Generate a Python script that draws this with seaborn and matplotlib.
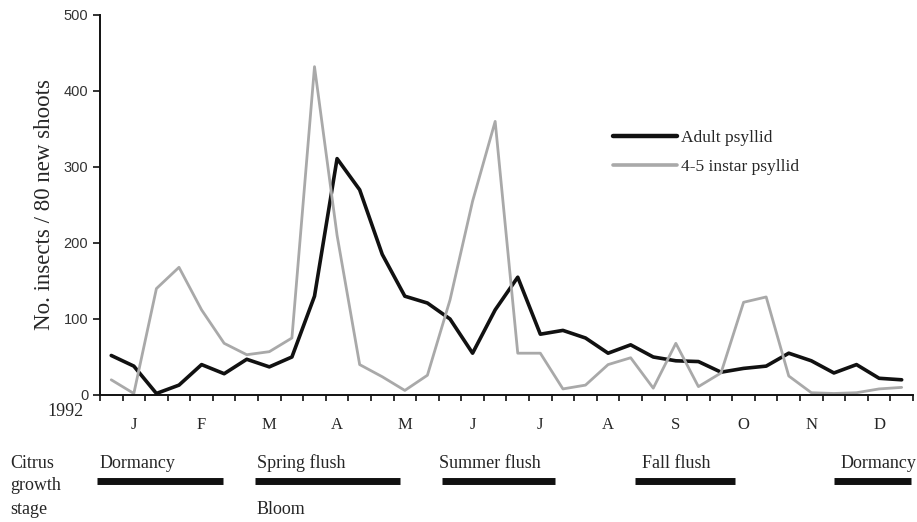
import numpy as np
import pandas as pd
import matplotlib
matplotlib.use("Agg")
import matplotlib.pyplot as plt
import matplotlib.transforms as mtransforms
import seaborn as sns

# ---- data (36 ten-day periods of 1992) ----
adult = [52, 38, 2, 13, 40, 28, 47, 37, 50, 130, 311, 270,
         185, 130, 121, 100, 55, 112, 155, 80, 85, 75, 55, 66,
         50, 45, 44, 30, 35, 38, 55, 45, 29, 40, 22, 20]
instar = [20, 2, 140, 168, 112, 68, 53, 57, 75, 432, 210, 40,
          24, 6, 26, 125, 255, 360, 55, 55, 8, 13, 40, 49,
          9, 68, 11, 29, 122, 129, 25, 3, 2, 3, 8, 10]
series_names = ["Adult psyllid", "4-5 instar psyllid"]
months = ["J", "F", "M", "A", "M", "J", "J", "A", "S", "O", "N", "D"]
y_ticks = [0, 100, 200, 300, 400, 500]

stage_names = ["Dormancy", "Spring flush", "Summer flush", "Fall flush", "Dormancy"]
stage_start = [-0.13, 6.86, 15.13, 23.67, 32.5]
stage_end = [5.44, 13.27, 20.13, 28.1, 35.9]
stage_label_x = [0.0, 6.95, 15.0, 24.0, 32.8]

n = len(adult)
period = np.arange(n) + 0.5
df = pd.DataFrame({
    "period": np.concatenate([period, period]),
    "count": adult + instar,
    "series": [series_names[0]] * n + [series_names[1]] * n,
})

sns.set_style("ticks")
plt.rcParams["font.family"] = ["Liberation Serif", "DejaVu Serif"]

fig = plt.figure(figsize=(9.17, 5.22), dpi=100)
ax = fig.add_axes([0.109, 0.2433, 0.8866, 0.728])

sns.lineplot(data=df, x="period", y="count", hue="series",
             palette={series_names[0]: "#111111", series_names[1]: "#a9a9a9"},
             ax=ax, legend=True)
lws = [2.6, 2.0]
for line, lw in zip(ax.lines, lws):
    line.set_linewidth(lw)

ax.set_xlim(0, n)
ax.set_ylim(0, 500)
ax.set_yticks(y_ticks)
ax.set_yticklabels([str(v) for v in y_ticks], family=["Liberation Sans Narrow", "Liberation Sans"],
                   fontsize=10.5, color="#333333")
ax.set_xticks(np.arange(0, n + 1), labels=[""] * (n + 1))
ax.set_xticks(np.arange(len(months)) * 3 + 1.5, minor=True)
ax.set_xticklabels(months, minor=True, fontsize=12)
ax.tick_params(axis="x", which="major", direction="out", length=4, width=1.2, color="#111111")
ax.tick_params(axis="x", which="minor", length=0, pad=16)
ax.tick_params(axis="y", direction="out", length=5, width=1.2, color="#111111")
ax.set_xlabel("")
ax.set_ylabel("No. insects / 80 new shoots", fontsize=16.5, labelpad=6)
for s in ["top", "right"]:
    ax.spines[s].set_visible(False)
for s in ["left", "bottom"]:
    ax.spines[s].set_linewidth(1.4)
    ax.spines[s].set_color("#111111")

leg = ax.legend(loc="upper left", bbox_to_anchor=(0.612, 0.738), frameon=False,
                fontsize=12.5, handlelength=3.7, handletextpad=0.2, labelspacing=0.75)
for h, lw in zip(leg.get_lines(), lws):
    h.set_linewidth(lw + 0.6)

fig.text(65 / 917, 1 - 412 / 522, "1992", ha="center", va="center", fontsize=13)

trans = mtransforms.blended_transform_factory(ax.transData, fig.transFigure)
for name, s, e, lx in zip(stage_names, stage_start, stage_end, stage_label_x):
    ax.text(lx, 1 - 463 / 522, name, transform=trans, ha="left", va="center",
            fontsize=13, clip_on=False)
    ax.plot([s, e], [1 - 481 / 522, 1 - 481 / 522], transform=trans, color="#111111",
            linewidth=5, solid_capstyle="butt", clip_on=False)
ax.text(stage_label_x[1], 1 - 510 / 522, "Bloom", transform=trans, ha="left",
        va="center", fontsize=13, clip_on=False)
for i, w in enumerate(["Citrus", "growth", "stage"]):
    fig.text(10 / 917, 1 - (463 + 23 * i) / 522, w, ha="left", va="center", fontsize=13)

fig.savefig("out.png", dpi=100)
